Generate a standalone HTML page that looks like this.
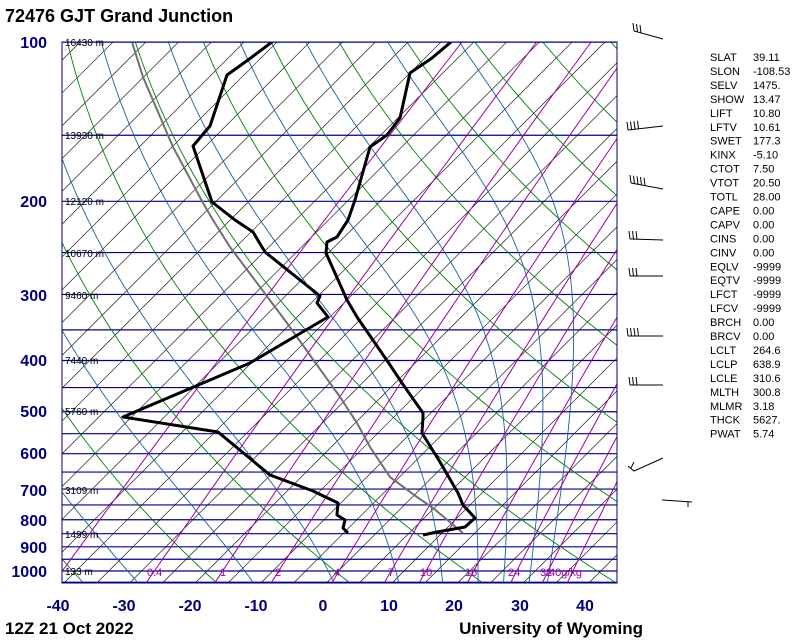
<!DOCTYPE html>
<html><head><meta charset="utf-8"><style>
html,body{margin:0;padding:0;background:#fff;}
body{width:800px;height:640px;overflow:hidden;position:relative;font-family:"Liberation Sans",sans-serif;}
</style></head><body>
<svg id="s" width="800" height="640" xmlns="http://www.w3.org/2000/svg" style="position:absolute;left:0;top:0">
<defs><clipPath id="c"><rect x="62" y="42" width="555" height="541"/></clipPath></defs>
<g id="bg" clip-path="url(#c)"></g>
<g id="fg" clip-path="url(#c)"></g>
<rect x="62" y="42" width="555" height="541" fill="none" stroke="#000080" stroke-width="1"/>
<g font-family="Liberation Sans, sans-serif" font-size="16" font-weight="bold" fill="#000080" text-anchor="end">
<text x="47" y="48">100</text><text x="47" y="207">200</text><text x="47" y="301">300</text><text x="47" y="366">400</text><text x="47" y="417">500</text><text x="47" y="459">600</text><text x="47" y="496">700</text><text x="47" y="526">800</text><text x="47" y="553">900</text><text x="47" y="577">1000</text>
</g>
<g font-family="Liberation Sans, sans-serif" font-size="16" font-weight="bold" fill="#000080" text-anchor="middle">
<text x="58" y="611">-40</text><text x="124" y="611">-30</text><text x="190" y="611">-20</text><text x="256" y="611">-10</text><text x="323" y="611">0</text><text x="389" y="611">10</text><text x="454" y="611">20</text><text x="520" y="611">30</text><text x="585" y="611">40</text>
</g>
<g font-family="Liberation Sans, sans-serif" font-size="10" fill="#000">
<text x="65" y="46">16430 m</text><text x="65" y="139">13930 m</text><text x="65" y="205">12120 m</text><text x="65" y="257">10670 m</text><text x="65" y="299">9460 m</text><text x="65" y="364">7440 m</text><text x="65" y="415">5760 m</text><text x="65" y="494">3109 m</text><text x="65" y="538">1499 m</text><text x="65" y="575">133 m</text>
</g>
<g font-family="Liberation Sans, sans-serif" font-size="11" fill="#a000a0">
<text x="147" y="576">0.4</text><text x="220" y="576">1</text><text x="275" y="576">2</text><text x="334" y="576">4</text><text x="388" y="576">7</text><text x="420" y="576">10</text><text x="465" y="576">16</text><text x="508" y="576">24</text><text x="540" y="576">32</text><text x="549" y="576">40g/kg</text>
</g>
<text x="5" y="22" font-family="Liberation Sans, sans-serif" font-size="18" font-weight="bold">72476 GJT Grand Junction</text>
<text x="5" y="634" font-family="Liberation Sans, sans-serif" font-size="17" font-weight="bold">12Z 21 Oct 2022</text>
<text x="643" y="634" text-anchor="end" font-family="Liberation Sans, sans-serif" font-size="17" font-weight="bold">University of Wyoming</text>
<g id="st" font-family="Liberation Sans, sans-serif" font-size="11" fill="#000"></g>
<g id="wb" stroke="#000" stroke-width="1" fill="none"></g>
</svg>
<script>
var NS="http://www.w3.org/2000/svg";
function el(g,tag,a){var e=document.createElementNS(NS,tag);for(var k in a)e.setAttribute(k,a[k]);document.getElementById(g).appendChild(e);return e;}
function Y(p){return 571-229.7*Math.log(1000/p);}
function X(T,p){return 323+6.56*T+(583-Y(p));}
var bg='bg';
for(var p=100;p<=1050;p+=50){var y=Y(p);el(bg,'line',{x1:62,x2:617,y1:y,y2:y,stroke:'#000090','stroke-width':1.2});}
for(var xb=70-33*30;xb<620;xb+=32.8){el(bg,'line',{x1:xb,y1:583,x2:xb+600,y2:-17,stroke:'#000','stroke-width':0.6});}
function pl(pts){return pts.map(function(q){return q[0].toFixed(1)+','+q[1].toFixed(1)}).join(' ');}
for(var th=-100;th<=200;th+=20){var pts=[];for(var p=1050;p>=95;p-=10){var T=(th+273.15)*Math.pow(p/1000,0.286)-273.15;pts.push([X(T,p),Y(p)]);}
el(bg,'polyline',{points:pl(pts),fill:'none',stroke:'#008000','stroke-width':0.9});}
function es(T){return 6.112*Math.exp(17.67*T/(T+243.5));}
var starts=[-28.4,-10.8,1.5,11.4,18.1,23.5,27.4,31.3,34.1];
starts.forEach(function(T0){var T=T0+273.15,pts=[];for(var p=1050;p>=100;p-=2){var Tc=T-273.15;pts.push([X(Tc,p),Y(p)]);var e=es(Tc),rs=0.622*e/(p-e);var dTdp=(1/p)*(287*T+2.5e6*rs)/(1004+2.5e6*2.5e6*rs*0.622/(287*T*T));T-=2*dTdp;}
el(bg,'polyline',{points:pl(pts),fill:'none',stroke:'#1860a0','stroke-width':0.9});});
[0.1,0.4,1,2,4,7,10,16,24,32,40].forEach(function(w){var pts=[];for(var p=1050;p>=100;p-=10){var e=w*p/(622+w);var l=Math.log(e/6.112);var T=243.5*l/(17.67-l);pts.push([X(T,p),Y(p)]);}
el(bg,'polyline',{points:pl(pts),fill:'none',stroke:'#a000a0','stroke-width':1});});
var temp=[[451,42],[432,58],[410,73],[400,118],[387,135],[370,147],[355,200],[348,220],[337,237],[327,242],[326,253],[347,300],[357,317],[388,362],[402,383],[423,413],[423,417],[422,433],[440,462],[458,493],[463,505],[475,518],[465,527],[437,532],[423,535]];
var dew=[[272,42],[248,60],[227,75],[210,126],[193,146],[212,202],[235,220],[253,232],[265,252],[320,296],[317,303],[328,317],[250,363],[123,417],[218,432],[270,475],[313,491],[338,503],[337,515],[345,520],[343,528],[348,533]];
var parc=[[132,42],[143,77],[173,147],[203,203],[213,220],[230,247],[287,323],[317,365],[340,397],[357,423],[370,447],[390,477],[417,497],[433,508],[463,533]];
el('fg','polyline',{points:pl(parc),fill:'none',stroke:'#707070','stroke-width':2});
el('fg','polyline',{points:pl(temp),fill:'none',stroke:'#000','stroke-width':3,'stroke-linejoin':'round'});
el('fg','polyline',{points:pl(dew),fill:'none',stroke:'#000','stroke-width':3,'stroke-linejoin':'round'});
var S=[["SLAT","39.11"],["SLON","-108.53"],["SELV","1475."],["SHOW","13.47"],["LIFT","10.80"],["LFTV","10.61"],["SWET","177.3"],["KINX","-5.10"],["CTOT","7.50"],["VTOT","20.50"],["TOTL","28.00"],["CAPE","0.00"],["CAPV","0.00"],["CINS","0.00"],["CINV","0.00"],["EQLV","-9999"],["EQTV","-9999"],["LFCT","-9999"],["LFCV","-9999"],["BRCH","0.00"],["BRCV","0.00"],["LCLT","264.6"],["LCLP","638.9"],["LCLE","310.6"],["MLTH","300.8"],["MLMR","3.18"],["THCK","5627."],["PWAT","5.74"]];
S.forEach(function(s,i){var y=61+i*13.95;var t=el('st','text',{x:710,y:y});t.textContent=s[0];var v=el('st','text',{x:753,y:y});v.textContent=s[1];});
function barb(x1,y1,x2,y2,n){el('wb','line',{x1:x1,y1:y1,x2:x2,y2:y2});for(var i=0;i<n;i++){var bx=x1+i*3.5,by=y1+(y2-y1)*(i*3.5)/(x2-x1);el('wb','line',{x1:bx,y1:by,x2:bx-1,y2:by-8});}}
barb(634,31,663,39,3);
barb(628,130,663,126,4);
barb(631,183,663,189,5);
barb(630,239,663,240,3);
barb(630,276,663,276,3);
barb(628,336,663,336,4);
barb(630,385,663,385,3);
el('wb','polyline',{points:'628,466 634,471 663,458'});el('wb','line',{x1:631,y1:468,x2:634,y2:462});
el('wb','line',{x1:662,y1:500,x2:692,y2:502});el('wb','line',{x1:688,y1:502,x2:688,y2:507});
</script>
</body></html>
